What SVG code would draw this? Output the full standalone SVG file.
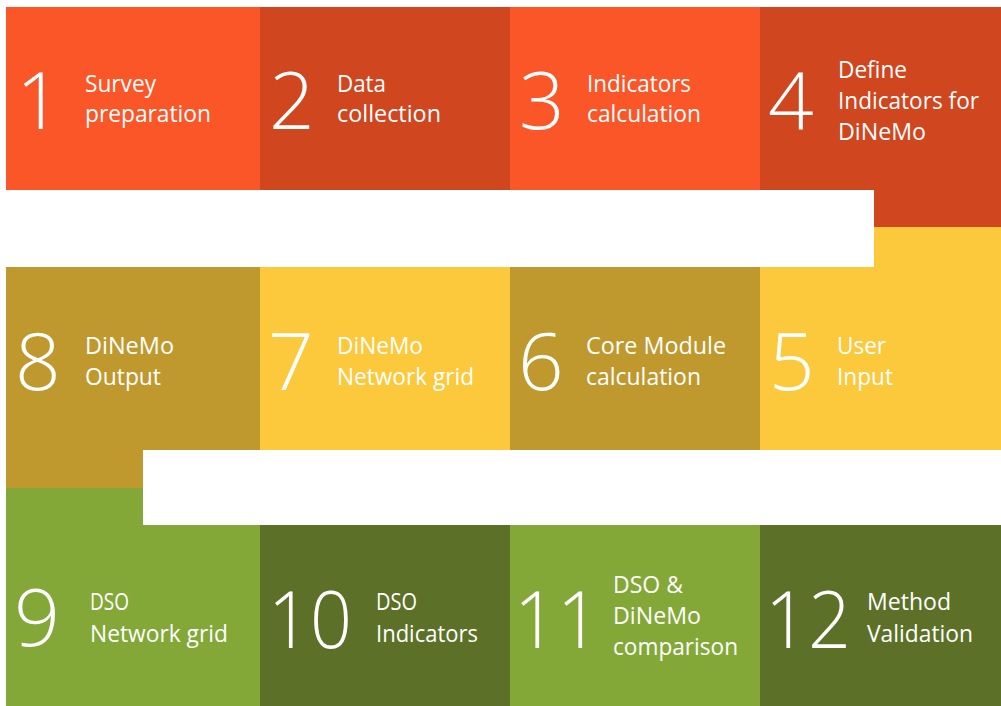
<svg xmlns="http://www.w3.org/2000/svg" width="1001" height="706" viewBox="0 0 1001 706">
<style>
.num{font-family:"Open Sans","DejaVu Sans",sans-serif;font-size:80px;font-weight:300;fill:#fff}
.lbl{font-family:"Open Sans","DejaVu Sans",sans-serif;font-size:23px;fill:#fff}
.o1{fill:#FA5628}.o2{fill:#CF461F}.y1{fill:#FBC93B}.y2{fill:#BF992E}.g1{fill:#83A838}.g2{fill:#5C7127}
</style>
<rect width="1001" height="706" fill="#fff"/>
<g id="node1">
<rect class="o1" x="6" y="7" width="254" height="183"/>
<text class="num" x="16" y="129">1</text>
<text class="lbl" x="85" y="92" textLength="71" lengthAdjust="spacingAndGlyphs">Survey</text>
<text class="lbl" x="85" y="122" textLength="126" lengthAdjust="spacingAndGlyphs">preparation</text>
</g>
<g id="node2">
<rect class="o2" x="260" y="7" width="250" height="183"/>
<text class="num" x="269" y="129">2</text>
<text class="lbl" x="337" y="92" textLength="49" lengthAdjust="spacingAndGlyphs">Data</text>
<text class="lbl" x="337" y="122" textLength="104" lengthAdjust="spacingAndGlyphs">collection</text>
</g>
<g id="node3">
<rect class="o1" x="510" y="7" width="250" height="183"/>
<text class="num" x="519" y="129">3</text>
<text class="lbl" x="587" y="92" textLength="104" lengthAdjust="spacingAndGlyphs">Indicators</text>
<text class="lbl" x="587" y="122" textLength="114" lengthAdjust="spacingAndGlyphs">calculation</text>
</g>
<g id="node4">
<polygon class="o2" points="760,7 1001,7 1001,227 874,227 874,190 760,190"/>
<text class="num" x="768" y="129">4</text>
<text class="lbl" x="838" y="78" textLength="69" lengthAdjust="spacingAndGlyphs">Define</text>
<text class="lbl" x="838" y="109" textLength="141" lengthAdjust="spacingAndGlyphs">Indicators for</text>
<text class="lbl" x="838" y="140" textLength="88" lengthAdjust="spacingAndGlyphs">DiNeMo</text>
</g>
<g id="node5">
<polygon class="y1" points="874,227 1001,227 1001,450 760,450 760,267 874,267"/>
<text class="num" x="769" y="390">5</text>
<text class="lbl" x="837" y="354" textLength="49" lengthAdjust="spacingAndGlyphs">User</text>
<text class="lbl" x="837" y="385" textLength="56" lengthAdjust="spacingAndGlyphs">Input</text>
</g>
<g id="node6">
<rect class="y2" x="510" y="267" width="250" height="183"/>
<text class="num" x="518" y="390">6</text>
<text class="lbl" x="586" y="354" textLength="140" lengthAdjust="spacingAndGlyphs">Core Module</text>
<text class="lbl" x="586" y="385" textLength="115" lengthAdjust="spacingAndGlyphs">calculation</text>
</g>
<g id="node7">
<rect class="y1" x="260" y="267" width="250" height="183"/>
<text class="num" x="268" y="390">7</text>
<text class="lbl" x="337" y="354" textLength="86" lengthAdjust="spacingAndGlyphs">DiNeMo</text>
<text class="lbl" x="337" y="385" textLength="137" lengthAdjust="spacingAndGlyphs">Network grid</text>
</g>
<g id="node8">
<polygon class="y2" points="6,267 260,267 260,450 143,450 143,488 6,488"/>
<text class="num" x="15" y="390">8</text>
<text class="lbl" x="85" y="354" textLength="89" lengthAdjust="spacingAndGlyphs">DiNeMo</text>
<text class="lbl" x="85" y="385" textLength="76" lengthAdjust="spacingAndGlyphs">Output</text>
</g>
<g id="node9">
<polygon class="g1" points="6,488 143,488 143,525 260,525 260,706 6,706"/>
<text class="num" x="14" y="646" textLength="46" lengthAdjust="spacingAndGlyphs">9</text>
<text class="lbl" x="90" y="610" textLength="39" lengthAdjust="spacingAndGlyphs">DSO</text>
<text class="lbl" x="90" y="642" textLength="138" lengthAdjust="spacingAndGlyphs">Network grid</text>
</g>
<g id="node10">
<rect class="g2" x="260" y="525" width="250" height="181"/>
<text class="num" x="268" y="648" textLength="84" lengthAdjust="spacingAndGlyphs">10</text>
<text class="lbl" x="376" y="610" textLength="41" lengthAdjust="spacingAndGlyphs">DSO</text>
<text class="lbl" x="376" y="642" textLength="102" lengthAdjust="spacingAndGlyphs">Indicators</text>
</g>
<g id="node11">
<rect class="g1" x="510" y="525" width="250" height="181"/>
<text class="num" x="514" y="648" textLength="86" lengthAdjust="spacingAndGlyphs">11</text>
<text class="lbl" x="613" y="593" textLength="70" lengthAdjust="spacingAndGlyphs">DSO &amp;</text>
<text class="lbl" x="613" y="624" textLength="88" lengthAdjust="spacingAndGlyphs">DiNeMo</text>
<text class="lbl" x="613" y="655" textLength="125" lengthAdjust="spacingAndGlyphs">comparison</text>
</g>
<g id="node12">
<rect class="g2" x="760" y="525" width="241" height="181"/>
<text class="num" x="765" y="648" textLength="86" lengthAdjust="spacingAndGlyphs">12</text>
<text class="lbl" x="867" y="610" textLength="84" lengthAdjust="spacingAndGlyphs">Method</text>
<text class="lbl" x="867" y="642" textLength="106" lengthAdjust="spacingAndGlyphs">Validation</text>
</g>
<g id="connectors"/>
</svg>
